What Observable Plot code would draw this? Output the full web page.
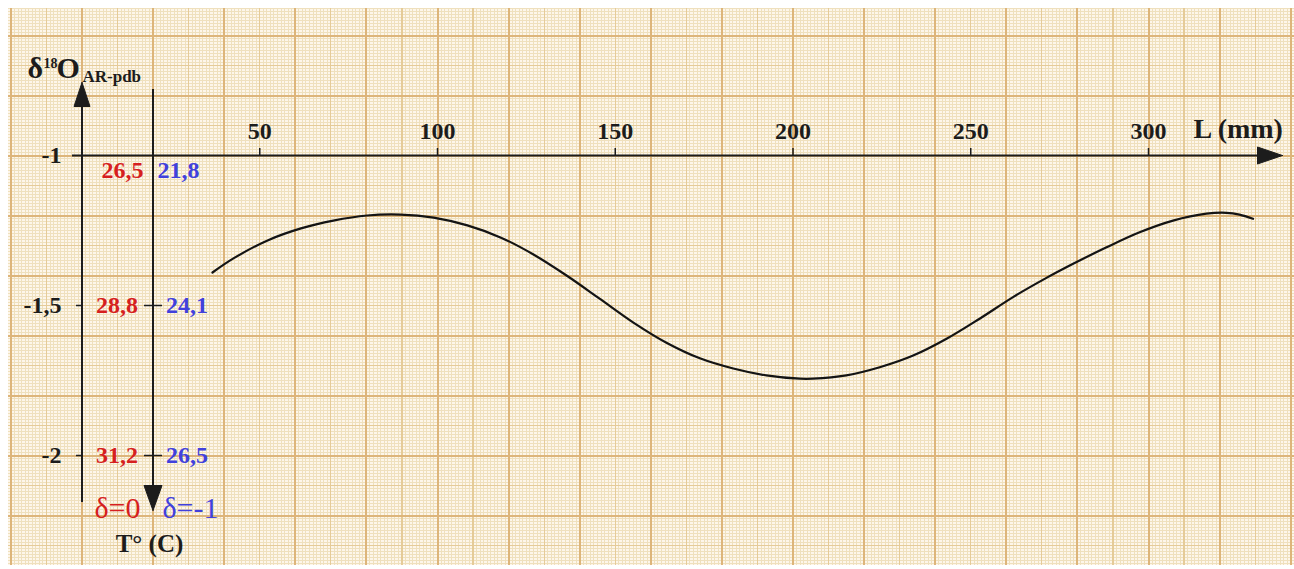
<!DOCTYPE html>
<html>
<head>
<meta charset="utf-8">
<script src="https://cdn.jsdelivr.net/npm/d3@7"></script>
<script src="https://cdn.jsdelivr.net/npm/@observablehq/plot@0.6"></script>
<style>
  html, body { margin: 0; padding: 0; background: #ffffff; overflow: hidden; }
  #chart svg { display: block; }
</style>
</head>
<body>
<div id="chart"></div>
<script>
// ---- data ----
const lengthMM = [36.7, 42.6, 52.2, 61.6, 70.7, 80.2, 89.6, 98.9, 108.4, 117.7, 127.0, 136.3, 145.7, 155.0, 164.4, 173.8, 183.2, 192.5, 201.9, 205.6, 215.0, 224.4, 233.8, 243.2, 252.5, 261.9, 271.3, 278.8, 288.2, 297.5, 306.9, 316.3, 321.9, 325.6, 329.4];
const delta18O = [-1.390, -1.343, -1.283, -1.243, -1.217, -1.200, -1.197, -1.207, -1.233, -1.273, -1.330, -1.400, -1.478, -1.556, -1.624, -1.676, -1.710, -1.733, -1.744, -1.744, -1.733, -1.706, -1.667, -1.611, -1.544, -1.472, -1.408, -1.361, -1.306, -1.256, -1.217, -1.194, -1.191, -1.197, -1.211];
const xTicks = [50, 100, 150, 200, 250, 300];
const yTicks = [-1, -1.5, -2];
const yTickLabels = ["-1", "-1,5", "-2"];
const tempDelta0 = ["26,5", "28,8", "31,2"];   // red, δ=0
const tempDeltaM1 = ["21,8", "24,1", "26,5"];  // blue, δ=-1

// ---- layout: pixel <-> data helpers ----
const W = 1294, H = 569;
const X = px => (px - 81.5) / 3.555;          // px -> L (mm)
const Y = py => -1 - (py - 155) / 300;         // px -> δ
const ky = 300;

const serif = "Liberation Serif, Times New Roman, serif";
const RED = "#d61f1f", BLUE = "#4141dc", INK = "#1c1c1c";

// graph paper extent
const gx0 = X(8), gx1 = X(W), gy0 = Y(8), gy1 = Y(565);
const fineX = d3.range(Math.ceil(gx0), gx1, 1).filter(v => v % 10 !== 0);
const midX = d3.range(Math.ceil(gx0 / 10) * 10, gx1, 10).filter(v => v % 20 !== 0);
const majX = d3.range(Math.ceil(gx0 / 20) * 20, gx1, 20);
const yi = (a, b) => d3.range(Math.ceil(b * 100), Math.floor(a * 100) + 1).map(v => v / 100);
const allY = yi(gy0, gy1);
const fineY = allY.filter(v => Math.round(v * 100) % 10 !== 0);
const midY = allY.filter(v => Math.round(v * 100) % 10 === 0 && Math.round(v * 100) % 20 !== 0);
const majY = allY.filter(v => Math.round(v * 100) % 20 === 0);

const curve = lengthMM.map((L, i) => ({L, d: delta18O[i]}));

// arrow heads (filled triangles) at axis ends
const tri = (pts) => pts.map(([a, b]) => ({x: a, y: b}));
const upArrow = tri([[X(81.5), Y(82)], [X(73.5), Y(106)], [X(89.5), Y(106)], [X(81.5), Y(82)]]);
const downArrow = tri([[X(152.5), Y(510)], [X(143.5), Y(485)], [X(161.5), Y(485)], [X(152.5), Y(510)]]);
const rightArrow = tri([[X(1282), Y(155)], [X(1257), Y(146.5)], [X(1257), Y(163.5)], [X(1282), Y(155)]]);

const tableY = yTicks.map((v, i) => ({v, lab: yTickLabels[i], red: tempDelta0[i], blue: tempDeltaM1[i]}));

const plot = Plot.plot({
  width: W, height: H,
  margin: 0,
  x: {domain: [X(0), X(W)], axis: null},
  y: {domain: [Y(H), Y(0)], axis: null},
  style: {background: "transparent"},
  marks: [
    // graph paper
    Plot.rect([0], {x1: gx0, x2: gx1, y1: gy1, y2: gy0, fill: "#fdf6ea"}),
    Plot.ruleX(fineX, {x: d => d, y1: gy1, y2: gy0, stroke: "#efe0bd", strokeWidth: 1, shapeRendering: "crispEdges"}),
    Plot.ruleY(fineY, {y: d => d, x1: gx0, x2: gx1, stroke: "#efe0bd", strokeWidth: 1, shapeRendering: "crispEdges"}),
    Plot.ruleX(midX, {x: d => d, y1: gy1, y2: gy0, stroke: "#e5cb98", strokeWidth: 1.2, shapeRendering: "crispEdges"}),
    Plot.ruleY(midY, {y: d => d, x1: gx0, x2: gx1, stroke: "#e5cb98", strokeWidth: 1.2, shapeRendering: "crispEdges"}),
    Plot.ruleX(majX, {x: d => d, y1: gy1, y2: gy0, stroke: "#ddb57a", strokeWidth: 2, shapeRendering: "crispEdges"}),
    Plot.ruleY(majY, {y: d => d, x1: gx0, x2: gx1, stroke: "#ddb57a", strokeWidth: 2, shapeRendering: "crispEdges"}),

    // axes
    Plot.ruleY([-1], {x1: X(72), x2: X(1262), stroke: INK, strokeWidth: 2}),
    Plot.ruleX([0], {y1: Y(502), y2: Y(100), stroke: INK, strokeWidth: 2}),
    Plot.ruleX([X(152.5)], {y1: Y(89), y2: Y(490), stroke: INK, strokeWidth: 2}),
    Plot.line(upArrow, {x: "x", y: "y", fill: INK, stroke: INK, strokeWidth: 1}),
    Plot.line(downArrow, {x: "x", y: "y", fill: INK, stroke: INK, strokeWidth: 1}),
    Plot.line(rightArrow, {x: "x", y: "y", fill: INK, stroke: INK, strokeWidth: 1}),

    // x ticks and labels
    Plot.ruleX(xTicks, {x: d => d, y1: Y(155), y2: Y(148), stroke: INK, strokeWidth: 1.5}),
    Plot.text(xTicks, {x: d => d, y: Y(138), text: d => String(d), lineAnchor: "bottom", fontFamily: serif, fontWeight: "bold", fontSize: 24, fill: INK}),
    Plot.text(["L (mm)"], {x: X(1193), y: Y(137), text: d => d, textAnchor: "start", lineAnchor: "bottom", fontFamily: serif, fontWeight: "bold", fontSize: 28, fill: INK}),

    // y ticks (δ axis and T axis)
    Plot.ruleY(tableY.slice(1), {y: "v", x1: X(76), x2: 0, stroke: INK, strokeWidth: 1.5}),
    Plot.ruleY(tableY.slice(1), {y: "v", x1: X(144), x2: X(162), stroke: INK, strokeWidth: 1.5}),
    Plot.text(tableY, {x: X(61), y: d => d.v - 7 / ky, text: "lab", textAnchor: "end", lineAnchor: "bottom", fontFamily: serif, fontWeight: "bold", fontSize: 24, fill: INK}),
    Plot.text(tableY, {x: d => X(d.v === -1 ? 122 : 116.5), y: d => d.v - (d.v === -1 ? 22 : 7) / ky, text: "red", lineAnchor: "bottom", fontFamily: serif, fontWeight: "bold", fontSize: 24, fill: RED}),
    Plot.text(tableY, {x: d => X(d.v === -1 ? 178 : 186.5), y: d => d.v - (d.v === -1 ? 22 : 7) / ky, text: "blue", lineAnchor: "bottom", fontFamily: serif, fontWeight: "bold", fontSize: 24, fill: BLUE}),

    // δ=0 / δ=-1 and T° (C)
    Plot.text(["δ=0"], {x: X(117), y: Y(517), text: d => d, lineAnchor: "bottom", fontFamily: serif, fontSize: 30, fill: RED}),
    Plot.text(["δ=-1"], {x: X(190), y: Y(517), text: d => d, lineAnchor: "bottom", fontFamily: serif, fontSize: 30, fill: BLUE}),
    Plot.text(["T° (C)"], {x: X(149), y: Y(551), text: d => d, lineAnchor: "bottom", fontFamily: serif, fontWeight: "bold", fontSize: 25, fill: INK}),

    // δ18O AR-pdb title
    Plot.text(["δ"], {x: X(27), y: Y(77), text: d => d, textAnchor: "start", lineAnchor: "bottom", fontFamily: serif, fontWeight: "bold", fontSize: 30, fill: INK}),
    Plot.text(["18"], {x: X(43), y: Y(67), text: d => d, textAnchor: "start", lineAnchor: "bottom", fontFamily: serif, fontWeight: "bold", fontSize: 14, fill: INK}),
    Plot.text(["O"], {x: X(56), y: Y(77), text: d => d, textAnchor: "start", lineAnchor: "bottom", fontFamily: serif, fontWeight: "bold", fontSize: 30, fill: INK}),
    Plot.text(["AR-pdb"], {x: X(82), y: Y(81), text: d => d, textAnchor: "start", lineAnchor: "bottom", fontFamily: serif, fontWeight: "bold", fontSize: 17, fill: INK}),

    // the curve
    Plot.line(curve, {x: "L", y: "d", curve: "catmull-rom", stroke: "#141414", strokeWidth: 2.2})
  ]
});
document.getElementById("chart").appendChild(plot);
</script>
</body>
</html>
